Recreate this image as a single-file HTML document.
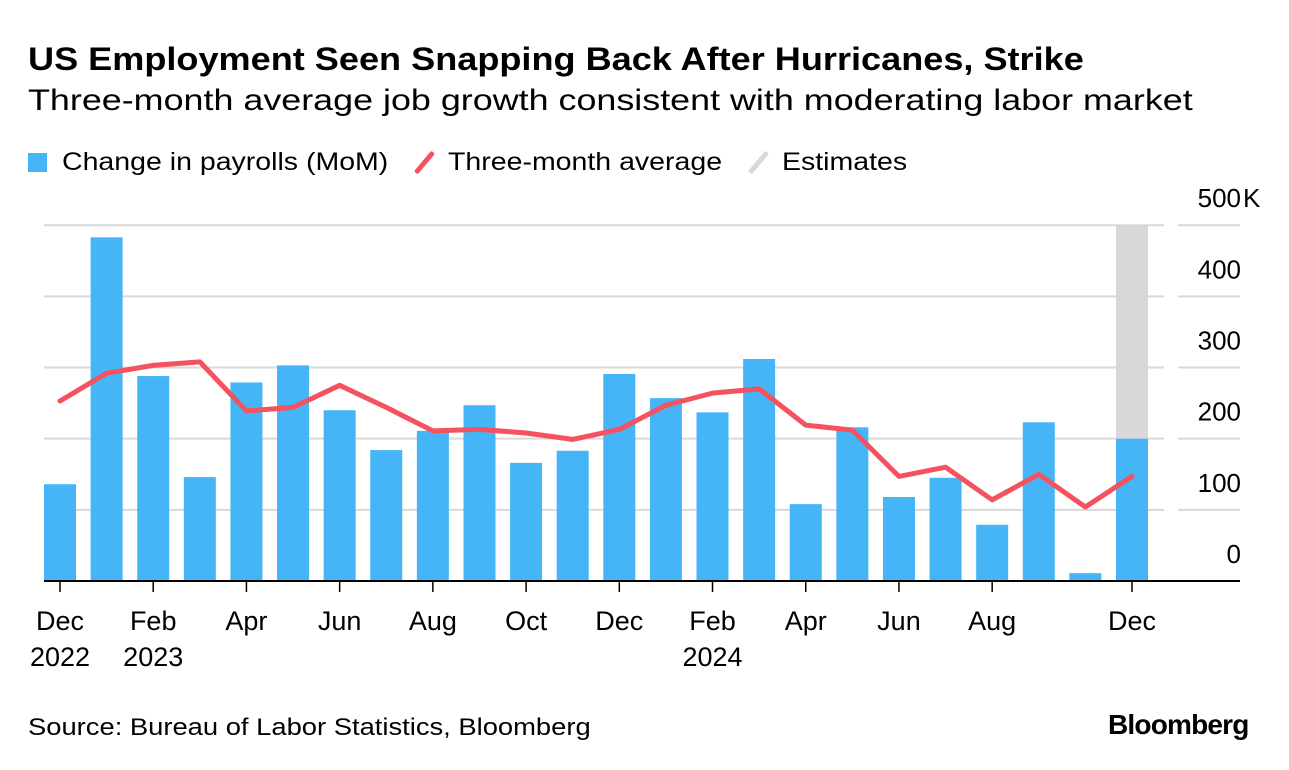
<!DOCTYPE html>
<html><head><meta charset="utf-8"><style>
body{margin:0;background:#fff;font-family:"Liberation Sans",sans-serif;color:#000}
#wrap{position:relative;width:1289px;height:770px;overflow:hidden}
.t{position:absolute;white-space:nowrap;transform-origin:0 0}
</style></head><body>
<div id="wrap">
<div class="t" style="left:28px;top:41px;font-size:32px;font-weight:bold;transform:scaleX(1.128)">US Employment Seen Snapping Back After Hurricanes, Strike</div>
<div class="t" style="left:28px;top:84px;font-size:30px;transform:scaleX(1.196)">Three-month average job growth consistent with moderating labor market</div>
<div>
<span style="position:absolute;left:28px;top:153px;width:19px;height:19px;background:#45b5f8"></span>
<div class="t" style="left:62px;top:148px;font-size:25px;transform:scaleX(1.14)">Change in payrolls (MoM)</div>
<span style="position:absolute;left:422px;top:149px;width:5px;height:27px;background:#f4525e;transform:rotate(40deg);border-radius:2px"></span>
<div class="t" style="left:448px;top:148px;font-size:25px;transform:scaleX(1.14)">Three-month average</div>
<span style="position:absolute;left:756px;top:149px;width:5px;height:27px;background:#d8d8d8;transform:rotate(40deg);border-radius:2px"></span>
<div class="t" style="left:782px;top:148px;font-size:25px;transform:scaleX(1.14)">Estimates</div>
</div>
<svg id="chart" width="1289" height="770" style="position:absolute;left:0;top:0"></svg>
<div class="t" style="left:28px;top:714px;font-size:24px;transform:scaleX(1.14)">Source: Bureau of Labor Statistics, Bloomberg</div>
<div class="t" style="left:1108px;top:709px;font-size:28px;font-weight:bold;letter-spacing:-0.8px">Bloomberg</div>
</div>
<script>
const categories=["Dec 2022","Jan 2023","Feb 2023","Mar 2023","Apr 2023","May 2023","Jun 2023","Jul 2023","Aug 2023","Sep 2023","Oct 2023","Nov 2023","Dec 2023","Jan 2024","Feb 2024","Mar 2024","Apr 2024","May 2024","Jun 2024","Jul 2024","Aug 2024","Sep 2024","Oct 2024","Nov 2024"];
const payrolls=[136,483,288,146,279,303,240,184,211,247,166,183,291,257,237,312,108,216,118,145,79,223,11,200];
const average=[253,292,303,308,239,244,275,244,211,213,208,199,213,247,264,270,219,212,147,160,114,150,104,147];
const estimateIndex=[23];
const yTicks=[0,100,200,300,400,500];
const yTickLabels=["0","100","200","300","400","500"];
const xTickIdx=[0,2,4,6,8,10,12,14,16,18,20,23];
const xTickLabels=[["Dec","2022"],["Feb","2023"],["Apr",""],["Jun",""],["Aug",""],["Oct",""],["Dec",""],["Feb","2024"],["Apr",""],["Jun",""],["Aug",""],["Dec",""]];

const svg=document.getElementById('chart');const NS="http://www.w3.org/2000/svg";
function y(v){return 581-v*0.7116;}
function x(i){return 60+i*(1132-60)/23;}
const bw=32;
function mk(t,a,p){const e=document.createElementNS(NS,t);for(const k in a)e.setAttribute(k,a[k]);(p||svg).appendChild(e);return e;}
yTicks.forEach((v,i)=>{
 if(v>0){
  const g=mk('line',{x1:44,x2:1164,y1:y(v),y2:y(v),stroke:'#d9d9d9','stroke-width':2});
  
  
  const g2=mk('line',{x1:1178,x2:1240,y1:y(v),y2:y(v),stroke:'#d9d9d9','stroke-width':2});
  
  
 }
 const t=mk('text',{x:1241,y:y(v)-18,'text-anchor':'end','font-size':26,'font-family':'Liberation Sans, sans-serif'});
 t.textContent=yTickLabels[i];
 
 
 if(i===yTicks.length-1){
  const k=mk('text',{x:1243,y:y(v)-18,'font-size':26,'font-family':'Liberation Sans, sans-serif'});
  k.textContent='K';
  
  
 }
});
estimateIndex.forEach(i=>{
 const r=mk('rect',{x:x(i)-bw/2,y:y(500),width:bw,height:y(0)-y(500),fill:'#d8d8d8'});
 
 
});
payrolls.forEach((v,i)=>{
 const r=mk('rect',{x:x(i)-bw/2,y:y(v),width:bw,height:y(0)-y(v),fill:'#45b5f8'});
 
 
});
const pl=mk('polyline',{points:average.map((v,i)=>x(i)+','+y(v)).join(' '),fill:'none',stroke:'#f4525e','stroke-width':5,'stroke-linejoin':'round','stroke-linecap':'round'});


const ax=mk('line',{x1:44,x2:1240,y1:581,y2:581,stroke:'#000','stroke-width':2});


xTickIdx.forEach((idx,k)=>{
 const tk=mk('line',{x1:x(idx),x2:x(idx),y1:582,y2:592,stroke:'#000','stroke-width':1.5});
 
 
 xTickLabels[k].forEach((s,j)=>{
  if(!s)return;
  const t=mk('text',{x:x(idx),y:630+j*36,'text-anchor':'middle','font-size':27,'font-family':'Liberation Sans, sans-serif'});
  t.textContent=s;
  
  
 });
});
</script>
</body></html>
